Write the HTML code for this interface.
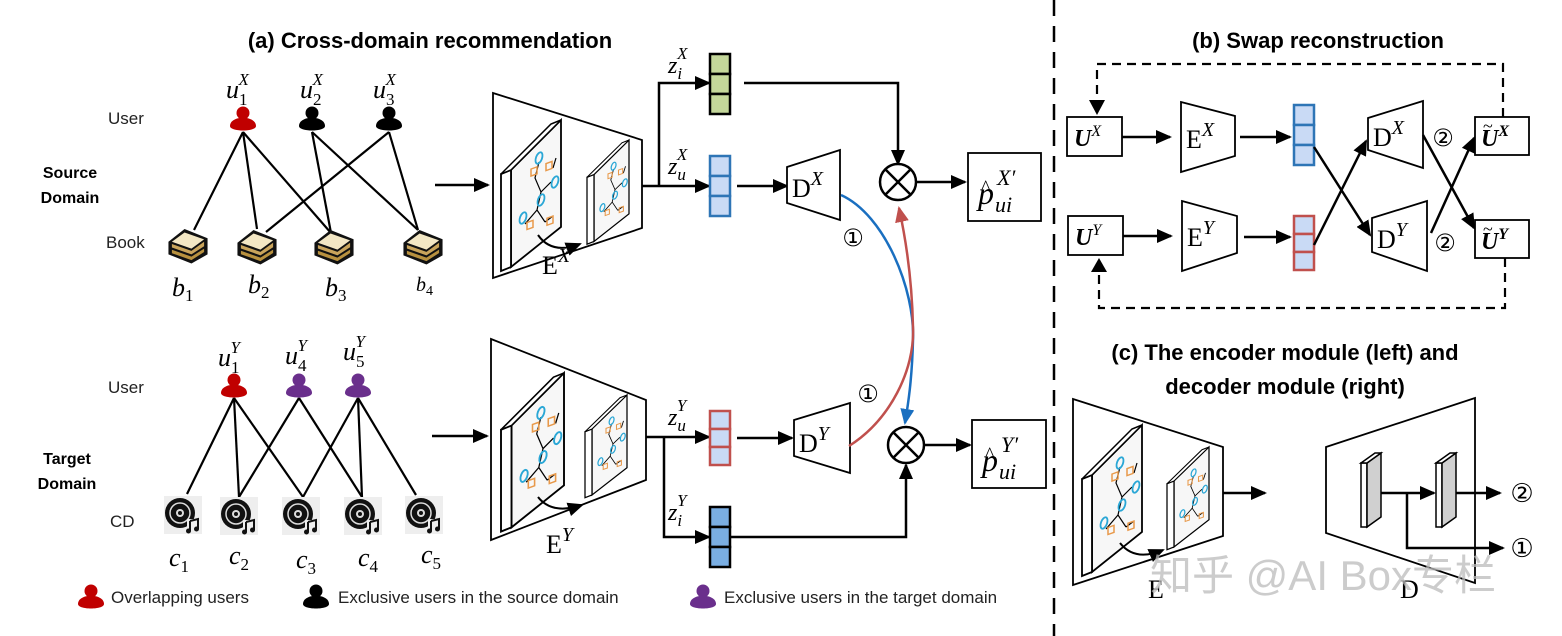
<!DOCTYPE html>
<html><head><meta charset="utf-8"><style>
html,body{margin:0;padding:0;background:#fff;}
svg{display:block;}
.lbl{font-family:"Liberation Sans",sans-serif;font-size:17px;fill:#222;}
.bld{font-family:"Liberation Sans",sans-serif;font-weight:bold;fill:#000;}
.m{font-family:"Liberation Serif",serif;font-style:italic;fill:#000;}
.r{font-family:"Liberation Serif",serif;fill:#000;}
.c{font-family:"DejaVu Sans",sans-serif;fill:#000;}
</style></head><body>
<svg width="1562" height="636" viewBox="0 0 1562 636" xmlns="http://www.w3.org/2000/svg">
<defs>
<marker id="ah" markerWidth="16" markerHeight="14" refX="14" refY="7" orient="auto" markerUnits="userSpaceOnUse"><path d="M0,0 L16,7 L0,14 z" fill="#000"/></marker>
<marker id="ahb" markerWidth="16" markerHeight="14" refX="14" refY="7" orient="auto" markerUnits="userSpaceOnUse"><path d="M0,0 L16,7 L0,14 z" fill="#1a6fc0"/></marker>
<marker id="ahr" markerWidth="16" markerHeight="14" refX="14" refY="7" orient="auto" markerUnits="userSpaceOnUse"><path d="M0,0 L16,7 L0,14 z" fill="#c0504d"/></marker>
<g id="user"><circle cx="0" cy="-7" r="6.5"/><path d="M-13,6 C-13,-5 13,-5 13,6 C13,12 -13,12 -13,6 z"/></g>
<g id="book0">
<path d="M-17,-2 L-3,-13 L17,-5 L17,9 L3,17 L-17,9 z" fill="#111"/>
<path d="M-14,-2 L-3,-10 L14,-4 L3,4 z" fill="#f3e7c4"/>
<path d="M-14,0 L3,6 L14,-2 L14,2 L3,9 L-14,3 z" fill="#c9a45b"/>
<path d="M-14,5 L3,11 L14,4 L14,7 L3,14 L-14,8 z" fill="#b8913f"/>
</g>
<g id="book"><use href="#book0" transform="scale(1.15)"/></g>
<g id="cd">
<rect x="-19" y="-19" width="38" height="38" fill="#eeeeee"/>
<circle cx="-3" cy="-2" r="15" fill="#111"/>
<circle cx="-3" cy="-2" r="10" fill="none" stroke="#ddd" stroke-width="1.5"/>
<circle cx="-3" cy="-2" r="4" fill="#ddd"/><circle cx="-3" cy="-2" r="2" fill="#111"/>
<rect x="4" y="4" width="12" height="13" fill="#eee"/>
<path d="M7,6 L15,4 L15,14 M7,6 L7,16" stroke="#111" stroke-width="2" fill="none"/>
<circle cx="5.5" cy="16" r="2.5" fill="#111"/><circle cx="13.5" cy="14" r="2.5" fill="#111"/>
</g>
<g id="plate">
<polygon points="10,50 60,0 60,107 10,147" fill="#f7f7f7" stroke="#000" stroke-width="1.8"/>
<polygon points="0,54 10,50 10,147 0,151" fill="#fff" stroke="#000" stroke-width="1.8"/>
<polygon points="0,54 50,4 60,0 10,50" fill="#fff" stroke="#000" stroke-width="1.5"/>
<g stroke="#000" stroke-width="1.2" fill="none">
<path d="M38,42 L34,58 L40,72 L50,62 M40,72 L36,90 L44,102 M36,90 L24,104 M52,48 L55,38 M44,102 L52,96"/>
</g>
<g fill="none" stroke="#2aa7d6" stroke-width="1.8">
<ellipse cx="38" cy="38" rx="3" ry="6" transform="rotate(20 38 38)"/>
<ellipse cx="54" cy="62" rx="3" ry="6" transform="rotate(20 54 62)"/>
<ellipse cx="40" cy="80" rx="3" ry="6" transform="rotate(20 40 80)"/>
<ellipse cx="22" cy="98" rx="3" ry="6" transform="rotate(20 22 98)"/>
</g>
<g fill="none" stroke="#e8994a" stroke-width="1.5">
<rect x="30" y="60" width="6" height="7" transform="skewY(-20)"/>
<rect x="45" y="60" width="6" height="7" transform="skewY(-20)"/>
<rect x="26" y="112" width="6" height="7" transform="skewY(-20)"/>
<rect x="46" y="115" width="6" height="7" transform="skewY(-20)"/>
</g>
</g>
<g id="otimes"><circle r="18" fill="#fff" stroke="#000" stroke-width="2.5"/><path d="M-12.7,-12.7 L12.7,12.7 M12.7,-12.7 L-12.7,12.7" stroke="#000" stroke-width="2.5"/></g>
</defs>

<line x1="1054" y1="0" x2="1054" y2="636" stroke="#000" stroke-width="2.5" stroke-dasharray="16,10"/>

<text class="bld" x="430" y="48" font-size="22" text-anchor="middle">(a) Cross-domain recommendation</text>
<text class="bld" x="1318" y="48" font-size="22" text-anchor="middle">(b) Swap reconstruction</text>
<text class="bld" x="1285" y="360" font-size="22" text-anchor="middle">(c) The encoder module (left) and</text>
<text class="bld" x="1285" y="394" font-size="22" text-anchor="middle">decoder module (right)</text>

<!-- SOURCE -->
<text class="lbl" x="108" y="124">User</text>
<text class="bld" x="70" y="178" font-size="16" text-anchor="middle">Source</text>
<text class="bld" x="70" y="203" font-size="16" text-anchor="middle">Domain</text>
<text class="lbl" x="106" y="248">Book</text>
<g stroke="#000" stroke-width="2.2">
<line x1="243" y1="132" x2="194" y2="230"/><line x1="243" y1="132" x2="257" y2="229"/><line x1="243" y1="132" x2="331" y2="233"/>
<line x1="312" y1="132" x2="331" y2="233"/><line x1="312" y1="132" x2="418" y2="230"/>
<line x1="389" y1="132" x2="266" y2="232"/><line x1="389" y1="132" x2="418" y2="230"/>
</g>
<use href="#user" x="243" y="120" fill="#c00000"/>
<use href="#user" x="312" y="120" fill="#000"/>
<use href="#user" x="389" y="120" fill="#000"/>
<text class="m" x="226" y="98" font-size="26">u<tspan font-size="17" font-style="normal" dy="7">1</tspan><tspan font-size="17" dx="-9" dy="-20">X</tspan></text>
<text class="m" x="300" y="98" font-size="26">u<tspan font-size="17" font-style="normal" dy="7">2</tspan><tspan font-size="17" dx="-9" dy="-20">X</tspan></text>
<text class="m" x="373" y="98" font-size="26">u<tspan font-size="17" font-style="normal" dy="7">3</tspan><tspan font-size="17" dx="-9" dy="-20">X</tspan></text>
<use href="#book" x="188" y="244"/><use href="#book" x="257" y="245"/><use href="#book" x="334" y="245"/><use href="#book" x="423" y="245"/>
<text class="m" x="172" y="296" font-size="26">b<tspan font-size="17" font-style="normal" dy="5">1</tspan></text>
<text class="m" x="248" y="293" font-size="26">b<tspan font-size="17" font-style="normal" dy="5">2</tspan></text>
<text class="m" x="325" y="296" font-size="26">b<tspan font-size="17" font-style="normal" dy="5">3</tspan></text>
<text class="m" x="416" y="291" font-size="20">b<tspan font-size="14" font-style="normal" dy="4">4</tspan></text>
<line x1="435" y1="185" x2="488" y2="185" stroke="#000" stroke-width="2.5" marker-end="url(#ah)"/>

<!-- TARGET -->
<text class="lbl" x="108" y="393">User</text>
<text class="bld" x="67" y="464" font-size="16" text-anchor="middle">Target</text>
<text class="bld" x="67" y="489" font-size="16" text-anchor="middle">Domain</text>
<text class="lbl" x="110" y="527">CD</text>
<g stroke="#000" stroke-width="2.2">
<line x1="234" y1="398" x2="187" y2="494"/><line x1="234" y1="398" x2="239" y2="497"/><line x1="234" y1="398" x2="303" y2="497"/>
<line x1="299" y1="398" x2="239" y2="497"/><line x1="299" y1="398" x2="362" y2="497"/>
<line x1="358" y1="398" x2="303" y2="497"/><line x1="358" y1="398" x2="362" y2="497"/><line x1="358" y1="398" x2="416" y2="495"/>
</g>
<use href="#user" x="234" y="387" fill="#c00000"/>
<use href="#user" x="299" y="387" fill="#6a2f8c"/>
<use href="#user" x="358" y="387" fill="#6a2f8c"/>
<text class="m" x="218" y="366" font-size="26">u<tspan font-size="17" font-style="normal" dy="7">1</tspan><tspan font-size="17" dx="-9" dy="-20">Y</tspan></text>
<text class="m" x="285" y="364" font-size="26">u<tspan font-size="17" font-style="normal" dy="7">4</tspan><tspan font-size="17" dx="-9" dy="-20">Y</tspan></text>
<text class="m" x="343" y="360" font-size="26">u<tspan font-size="17" font-style="normal" dy="7">5</tspan><tspan font-size="17" dx="-9" dy="-20">Y</tspan></text>
<use href="#cd" x="183" y="515"/><use href="#cd" x="239" y="516"/><use href="#cd" x="301" y="516"/><use href="#cd" x="363" y="516"/><use href="#cd" x="424" y="515"/>
<text class="m" x="169" y="566" font-size="26">c<tspan font-size="17" font-style="normal" dy="6">1</tspan></text>
<text class="m" x="229" y="564" font-size="26">c<tspan font-size="17" font-style="normal" dy="6">2</tspan></text>
<text class="m" x="296" y="568" font-size="26">c<tspan font-size="17" font-style="normal" dy="6">3</tspan></text>
<text class="m" x="358" y="566" font-size="26">c<tspan font-size="17" font-style="normal" dy="6">4</tspan></text>
<text class="m" x="421" y="563" font-size="26">c<tspan font-size="17" font-style="normal" dy="6">5</tspan></text>
<line x1="432" y1="436" x2="487" y2="436" stroke="#000" stroke-width="2.5" marker-end="url(#ah)"/>

<!-- legend -->
<use href="#user" x="91" y="598" fill="#c00000"/>
<text class="lbl" x="111" y="603">Overlapping users</text>
<use href="#user" x="316" y="598" fill="#000"/>
<text class="lbl" x="338" y="603">Exclusive users in the source domain</text>
<use href="#user" x="703" y="598" fill="#6a2f8c"/>
<text class="lbl" x="724" y="603">Exclusive users in the target domain</text>

<!-- Encoder X -->
<polygon points="493,93 642,140 642,228 493,278" fill="#fff" stroke="#000" stroke-width="1.8"/>
<use href="#plate" transform="translate(501,120)"/>
<use href="#plate" transform="translate(587,140) scale(0.7,0.69)"/>
<path d="M538,235 Q552,255 580,244" fill="none" stroke="#000" stroke-width="2" marker-end="url(#ah)"/>
<text class="r" x="542" y="274" font-size="26">E<tspan class="m" font-size="20" dy="-12">X</tspan></text>
<polyline points="642,186 709,186" fill="none" stroke="#000" stroke-width="2.5" marker-end="url(#ah)"/>
<polyline points="659,186 659,83 709,83" fill="none" stroke="#000" stroke-width="2.5" marker-end="url(#ah)"/>
<g stroke="#000" stroke-width="2.5" fill="#c4d79b"><rect x="710" y="54" width="20" height="20"/><rect x="710" y="74" width="20" height="20"/><rect x="710" y="94" width="20" height="20"/></g>
<g stroke="#2e75b6" stroke-width="2.5" fill="#c9daf5"><rect x="710" y="156" width="20" height="20"/><rect x="710" y="176" width="20" height="20"/><rect x="710" y="196" width="20" height="20"/></g>
<text class="m" x="668" y="73" font-size="24">z<tspan font-size="17" dy="6">i</tspan><tspan font-size="17" dx="-5" dy="-20">X</tspan></text>
<text class="m" x="668" y="174" font-size="24">z<tspan font-size="17" dy="6">u</tspan><tspan font-size="17" dx="-9" dy="-20">X</tspan></text>
<line x1="737" y1="186" x2="787" y2="186" stroke="#000" stroke-width="2.5" marker-end="url(#ah)"/>
<polygon points="787,167 840,150 840,220 787,203" fill="#fff" stroke="#000" stroke-width="1.8"/>
<text class="r" x="792" y="197" font-size="26">D<tspan class="m" font-size="20" dy="-12">X</tspan></text>
<polyline points="744,83 898,83 898,164" fill="none" stroke="#000" stroke-width="2.5" marker-end="url(#ah)"/>
<use href="#otimes" x="898" y="182"/>
<line x1="916" y1="182" x2="965" y2="182" stroke="#000" stroke-width="2.5" marker-end="url(#ah)"/>
<rect x="968" y="153" width="73" height="68" fill="#fff" stroke="#000" stroke-width="1.8"/>
<text class="m" x="978" y="204" font-size="32">p</text>
<text class="r" x="981" y="194" font-size="20">^</text>
<text class="m" x="995" y="212" font-size="22">ui</text>
<text class="m" x="997" y="185" font-size="22">X′</text>
<text class="c" x="853" y="246" font-size="24" text-anchor="middle">①</text>

<!-- Encoder Y -->
<polygon points="491,339 646,400 646,480 491,540" fill="#fff" stroke="#000" stroke-width="1.8"/>
<use href="#plate" transform="translate(501,373) scale(1.05,1.05)"/>
<use href="#plate" transform="translate(585,395) scale(0.7,0.68)"/>
<path d="M538,497 Q552,515 582,505" fill="none" stroke="#000" stroke-width="2" marker-end="url(#ah)"/>
<text class="r" x="546" y="553" font-size="26">E<tspan class="m" font-size="20" dy="-12">Y</tspan></text>
<line x1="646" y1="437" x2="709" y2="437" stroke="#000" stroke-width="2.5" marker-end="url(#ah)"/>
<polyline points="664,437 664,537 709,537" fill="none" stroke="#000" stroke-width="2.5" marker-end="url(#ah)"/>
<g stroke="#c0504d" stroke-width="2.5" fill="#c9daf5"><rect x="710" y="411" width="20" height="18"/><rect x="710" y="429" width="20" height="18"/><rect x="710" y="447" width="20" height="18"/></g>
<g stroke="#000" stroke-width="2.5" fill="#7aaee3"><rect x="710" y="507" width="20" height="20"/><rect x="710" y="527" width="20" height="20"/><rect x="710" y="547" width="20" height="20"/></g>
<text class="m" x="668" y="425" font-size="24">z<tspan font-size="17" dy="6">u</tspan><tspan font-size="17" dx="-9" dy="-20">Y</tspan></text>
<text class="m" x="668" y="520" font-size="24">z<tspan font-size="17" dy="6">i</tspan><tspan font-size="17" dx="-5" dy="-20">Y</tspan></text>
<line x1="737" y1="438" x2="792" y2="438" stroke="#000" stroke-width="2.5" marker-end="url(#ah)"/>
<polygon points="794,420 850,403 850,473 794,456" fill="#fff" stroke="#000" stroke-width="1.8"/>
<text class="r" x="799" y="452" font-size="26">D<tspan class="m" font-size="20" dy="-12">Y</tspan></text>
<polyline points="730,537 906,537 906,465" fill="none" stroke="#000" stroke-width="2.5" marker-end="url(#ah)"/>
<use href="#otimes" x="906" y="445"/>
<line x1="924" y1="445" x2="970" y2="445" stroke="#000" stroke-width="2.5" marker-end="url(#ah)"/>
<rect x="972" y="420" width="74" height="68" fill="#fff" stroke="#000" stroke-width="1.8"/>
<text class="m" x="982" y="471" font-size="32">p</text>
<text class="r" x="985" y="461" font-size="20">^</text>
<text class="m" x="999" y="479" font-size="22">ui</text>
<text class="m" x="1001" y="452" font-size="22">Y′</text>
<text class="c" x="868" y="402" font-size="24" text-anchor="middle">①</text>

<path d="M841,195 C885,215 915,290 913,340 C912,380 908,405 905,423" fill="none" stroke="#1a6fc0" stroke-width="2.5" marker-end="url(#ahb)"/>
<path d="M849,446 C890,420 915,370 913,327 C912,280 906,240 899,208" fill="none" stroke="#c0504d" stroke-width="2.5" marker-end="url(#ahr)"/>

<!-- (b) -->
<g fill="none" stroke="#000" stroke-width="2.2" stroke-dasharray="9,6">
<polyline points="1503,117 1503,64 1097,64 1097,100"/>
<polyline points="1505,258 1505,308 1099,308 1099,270"/>
</g>
<path d="M1089,100 L1105,100 L1097,115 z"/>
<path d="M1091,272 L1107,272 L1099,258 z"/>
<rect x="1067" y="117" width="55" height="39" fill="#fff" stroke="#000" stroke-width="1.8"/>
<text class="m" x="1074" y="146" font-size="24" font-weight="bold">U<tspan font-size="16" font-weight="normal" dy="-10">X</tspan></text>
<rect x="1068" y="216" width="55" height="39" fill="#fff" stroke="#000" stroke-width="1.8"/>
<text class="m" x="1075" y="245" font-size="24" font-weight="bold">U<tspan font-size="16" font-weight="normal" dy="-10">Y</tspan></text>
<line x1="1122" y1="137" x2="1170" y2="137" stroke="#000" stroke-width="2.5" marker-end="url(#ah)"/>
<line x1="1123" y1="236" x2="1171" y2="236" stroke="#000" stroke-width="2.5" marker-end="url(#ah)"/>
<polygon points="1181,102 1235,116 1235,156 1181,172" fill="#fff" stroke="#000" stroke-width="1.8"/>
<text class="r" x="1186" y="148" font-size="26">E<tspan class="m" font-size="20" dy="-12">X</tspan></text>
<polygon points="1182,201 1237,216 1237,253 1182,271" fill="#fff" stroke="#000" stroke-width="1.8"/>
<text class="r" x="1187" y="246" font-size="26">E<tspan class="m" font-size="20" dy="-12">Y</tspan></text>
<line x1="1240" y1="137" x2="1290" y2="137" stroke="#000" stroke-width="2.5" marker-end="url(#ah)"/>
<line x1="1244" y1="237" x2="1290" y2="237" stroke="#000" stroke-width="2.5" marker-end="url(#ah)"/>
<g stroke="#2e75b6" stroke-width="2.5" fill="#c9daf5"><rect x="1294" y="105" width="20" height="20"/><rect x="1294" y="125" width="20" height="20"/><rect x="1294" y="145" width="20" height="20"/></g>
<g stroke="#c0504d" stroke-width="2.5" fill="#c9daf5"><rect x="1294" y="216" width="20" height="18"/><rect x="1294" y="234" width="20" height="18"/><rect x="1294" y="252" width="20" height="18"/></g>
<polygon points="1368,118 1423,101 1423,168 1368,150" fill="#fff" stroke="#000" stroke-width="1.8"/>
<text class="r" x="1373" y="146" font-size="26">D<tspan class="m" font-size="20" dy="-12">X</tspan></text>
<polygon points="1372,218 1427,201 1427,271 1372,252" fill="#fff" stroke="#000" stroke-width="1.8"/>
<text class="r" x="1377" y="248" font-size="26">D<tspan class="m" font-size="20" dy="-12">Y</tspan></text>
<line x1="1314" y1="147" x2="1370" y2="235" stroke="#000" stroke-width="2.5" marker-end="url(#ah)"/>
<line x1="1314" y1="245" x2="1366" y2="141" stroke="#000" stroke-width="2.5" marker-end="url(#ah)"/>
<line x1="1423" y1="135" x2="1474" y2="228" stroke="#000" stroke-width="2.5" marker-end="url(#ah)"/>
<line x1="1431" y1="233" x2="1474" y2="138" stroke="#000" stroke-width="2.5" marker-end="url(#ah)"/>
<text class="c" x="1443" y="146" font-size="24" text-anchor="middle">②</text>
<text class="c" x="1445" y="251" font-size="24" text-anchor="middle">②</text>
<rect x="1475" y="117" width="54" height="38" fill="#fff" stroke="#000" stroke-width="1.8"/>
<text class="m" x="1481" y="146" font-size="24" font-weight="bold">U<tspan font-size="16" dy="-10">X</tspan></text>
<text class="r" x="1483" y="132" font-size="18">~</text>
<rect x="1475" y="220" width="54" height="38" fill="#fff" stroke="#000" stroke-width="1.8"/>
<text class="m" x="1481" y="249" font-size="24" font-weight="bold">U<tspan font-size="16" dy="-10">Y</tspan></text>
<text class="r" x="1483" y="235" font-size="18">~</text>

<!-- (c) -->
<polygon points="1073,399 1223,447 1223,536 1073,585" fill="#fff" stroke="#000" stroke-width="1.8"/>
<use href="#plate" transform="translate(1082,425)"/>
<use href="#plate" transform="translate(1167,447) scale(0.7,0.68)"/>
<path d="M1120,543 Q1135,562 1163,550" fill="none" stroke="#000" stroke-width="2" marker-end="url(#ah)"/>
<line x1="1223" y1="493" x2="1265" y2="493" stroke="#000" stroke-width="2.5" marker-end="url(#ah)"/>
<text class="r" x="1148" y="598" font-size="26">E</text>
<polygon points="1326,447 1475,398 1475,583 1326,533" fill="#fff" stroke="#000" stroke-width="1.8"/>
<g stroke="#000" stroke-width="1.5">
<polygon points="1361,463 1367,463 1367,527 1361,527" fill="#fff"/>
<polygon points="1367,463 1381,453 1381,517 1367,527" fill="#d0d0d0"/>
<polygon points="1361,463 1375,453 1381,453 1367,463" fill="#fff"/>
<polygon points="1436,463 1442,463 1442,527 1436,527" fill="#fff"/>
<polygon points="1442,463 1456,453 1456,517 1442,527" fill="#d0d0d0"/>
<polygon points="1436,463 1450,453 1456,453 1442,463" fill="#fff"/>
</g>
<line x1="1381" y1="493" x2="1434" y2="493" stroke="#000" stroke-width="2.5" marker-end="url(#ah)"/>
<polyline points="1407,493 1407,548 1503,548" fill="none" stroke="#000" stroke-width="2.5" marker-end="url(#ah)"/>
<line x1="1456" y1="493" x2="1500" y2="493" stroke="#000" stroke-width="2.5" marker-end="url(#ah)"/>
<text class="c" x="1522" y="502" font-size="26" text-anchor="middle">②</text>
<text class="c" x="1522" y="557" font-size="26" text-anchor="middle">①</text>
<text class="r" x="1400" y="598" font-size="26">D</text>
<text x="1150" y="590" font-family="'Liberation Sans','Noto Sans CJK SC',sans-serif" font-size="42" fill="#bbbbbb" fill-opacity="0.75">知乎 @AI Box专栏</text>
</svg>
</body></html>
